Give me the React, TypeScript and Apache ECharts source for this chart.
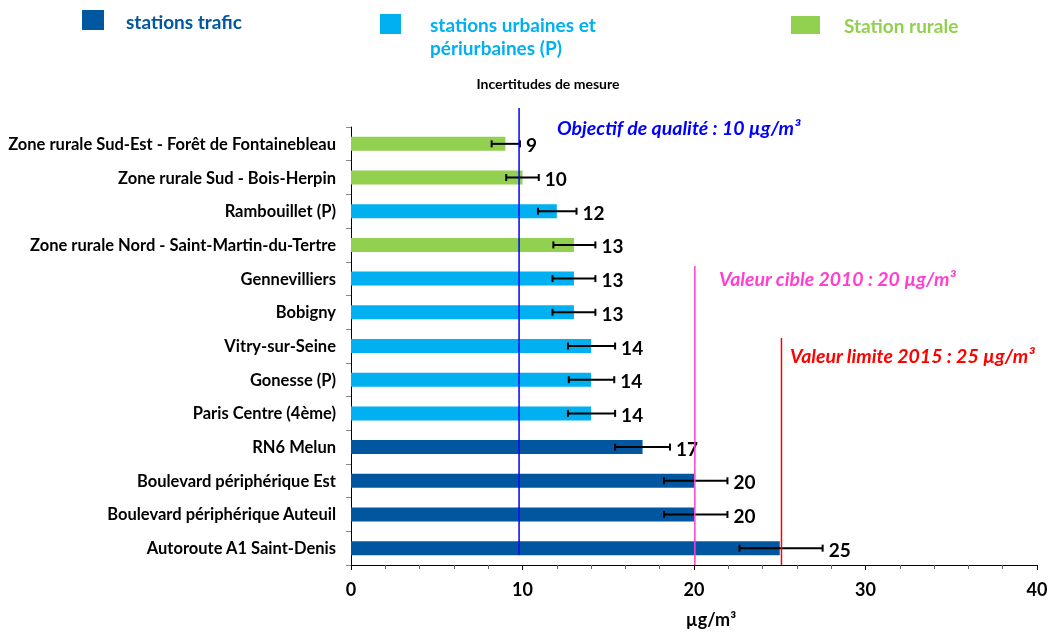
import React, { useEffect, useRef } from "react";
import * as echarts from "echarts";

const categories = [
  "Zone rurale Sud-Est - Forêt de Fontainebleau",
  "Zone rurale Sud - Bois-Herpin",
  "Rambouillet (P)",
  "Zone rurale Nord - Saint-Martin-du-Tertre",
  "Gennevilliers",
  "Bobigny",
  "Vitry-sur-Seine",
  "Gonesse (P)",
  "Paris Centre (4ème)",
  "RN6 Melun",
  "Boulevard périphérique Est",
  "Boulevard périphérique Auteuil",
  "Autoroute A1 Saint-Denis",
];
const values = [9, 10, 12, 13, 13, 13, 14, 14, 14, 17, 20, 20, 25];
const types = ["rural", "rural", "urbain", "rural", "urbain", "urbain", "urbain", "urbain", "urbain", "trafic", "trafic", "trafic", "trafic"];
const errLow = [8.2, 9.05, 10.9, 11.8, 11.75, 11.75, 12.65, 12.7, 12.65, 15.4, 18.25, 18.25, 22.65];
const errHigh = [9.85, 10.95, 13.15, 14.25, 14.25, 14.25, 15.4, 15.35, 15.4, 18.6, 21.95, 21.95, 27.5];

const legendLabels = ["stations trafic", "stations urbaines et\npériurbaines (P)", "Station rurale"];
const refValues = [9.8, 20.05, 25.1];
const refTexts = [
  "Objectif de qualité : 10 µg/m³",
  "Valeur cible 2010 : 20 µg/m³",
  "Valeur limite 2015 : 25 µg/m³",
];

const COLORS: Record<string, string> = {
  trafic: "#0057A0",
  urbain: "#00B0F0",
  rural: "#92D050",
};
const REF_COLORS = ["#0000FF", "#FF3FCF", "#FF0000"];
const FONT = "Lato";

export default function App() {
  const ref = useRef<HTMLDivElement>(null);
  useEffect(() => {
    if (!ref.current) return;
    const chart = echarts.init(ref.current, undefined, { renderer: "svg" });
    const option: any = {
      animation: false,
      textStyle: { fontFamily: FONT },
      grid: { left: 351, right: 12, top: 127, bottom: 67, containLabel: false, outerBoundsMode: "none" },
      xAxis: {
        type: "value",
        min: 0,
        max: 40,
        interval: 10,
        axisLine: { show: true, lineStyle: { color: "#000", width: 1 } },
        axisTick: { show: true, length: 5, lineStyle: { color: "#000" } },
        minorTick: { show: true, splitNumber: 5, length: 4, lineStyle: { color: "#666" } },
        splitLine: { show: false },
        axisLabel: { color: "#000", fontWeight: "bold", fontSize: 18, fontFamily: FONT, margin: 15 },
        name: "µg/m³",
        nameLocation: "middle",
        nameGap: 45,
        nameTextStyle: { color: "#000", fontWeight: "bold", fontSize: 18, fontFamily: FONT, padding: [0, 0, 0, 34] },
      },
      yAxis: {
        type: "category",
        inverse: true,
        data: categories,
        axisLine: { show: true, lineStyle: { color: "#000", width: 1 } },
        axisTick: { show: true, length: 5, lineStyle: { color: "#888" } },
        axisLabel: { color: "#000", fontWeight: "bold", fontSize: 16.5, fontFamily: FONT, margin: 15 },
      },
      series: [
        {
          type: "bar",
          barWidth: 14,
          data: values.map((v, i) => ({ value: v, itemStyle: { color: COLORS[types[i]] } })),
          z: 2,
        },
        {
          type: "custom",
          z: 5,
          encode: { x: [1, 2], y: 0 },
          data: values.map((v, i) => [i, errLow[i], errHigh[i], v]),
          renderItem: (params: any, api: any) => {
            const idx = api.value(0);
            const lo = api.coord([api.value(1), idx]);
            const hi = api.coord([api.value(2), idx]);
            const y = lo[1];
            const cap = 3.5;
            const st = { stroke: "#000", lineWidth: 2 };
            return {
              type: "group",
              children: [
                { type: "line", shape: { x1: lo[0], y1: y, x2: hi[0], y2: y }, style: st },
                { type: "line", shape: { x1: lo[0], y1: y - cap, x2: lo[0], y2: y + cap }, style: st },
                { type: "line", shape: { x1: hi[0], y1: y - cap, x2: hi[0], y2: y + cap }, style: st },
                {
                  type: "text",
                  style: {
                    text: String(api.value(3)),
                    x: hi[0] + 6,
                    y: y + 1,
                    verticalAlign: "middle",
                    align: "left",
                    fill: "#000",
                    font: `bold 19px ${FONT}`,
                  },
                },
              ],
            };
          },
        },
      ],
    };
    chart.setOption(option);

    // reference lines and annotations, positioned through the x axis scale
    const refLineTop = [108, 266, 338];
    const refLineBottom = [555, 565, 565];
    const refTextPos = [
      { x: 557, y: 127 },
      { x: 719, y: 278 },
      { x: 790, y: 355 },
    ];
    const graphics: any[] = [];
    refValues.forEach((v, i) => {
      const px = chart.convertToPixel({ xAxisIndex: 0 }, v) as number;
      graphics.push({
        type: "line",
        z: 10,
        shape: { x1: px, y1: refLineTop[i], x2: px, y2: refLineBottom[i] },
        style: { stroke: REF_COLORS[i], lineWidth: 1.5 },
      });
      graphics.push({
        type: "text",
        z: 10,
        x: refTextPos[i].x,
        y: refTextPos[i].y,
        style: {
          text: refTexts[i],
          fill: REF_COLORS[i],
          font: `italic bold 19.5px ${FONT}`,
          verticalAlign: "middle",
        },
      });
    });
    // legend
    const legendColors = [COLORS.trafic, COLORS.urbain, COLORS.rural];
    const legendBoxes = [
      { x: 82, y: 10, w: 22, h: 20 },
      { x: 380, y: 14, w: 21, h: 20 },
      { x: 791, y: 16, w: 29, h: 18 },
    ];
    const legendTextPos = [
      { x: 126, y: 21 },
      { x: 430, y: 13 },
      { x: 844, y: 25 },
    ];
    legendLabels.forEach((t, i) => {
      const b = legendBoxes[i];
      graphics.push({ type: "rect", shape: { x: b.x, y: b.y, width: b.w, height: b.h }, style: { fill: legendColors[i] } });
      graphics.push({
        type: "text",
        x: legendTextPos[i].x,
        y: legendTextPos[i].y,
        style: {
          text: t,
          fill: legendColors[i],
          font: `bold 19px ${FONT}`,
          verticalAlign: i === 1 ? "top" : "middle",
          lineHeight: 23,
        },
      });
    });
    graphics.push({
      type: "text",
      x: 548,
      y: 83,
      style: {
        text: "Incertitudes de mesure",
        fill: "#000",
        font: `bold 14px ${FONT}`,
        align: "center",
        verticalAlign: "middle",
      },
    });
    chart.setOption({ graphic: graphics });

    return () => chart.dispose();
  }, []);
  return <div ref={ref} style={{ width: 1049, height: 632, position: "fixed", left: 0, top: 0 }} />;
}
